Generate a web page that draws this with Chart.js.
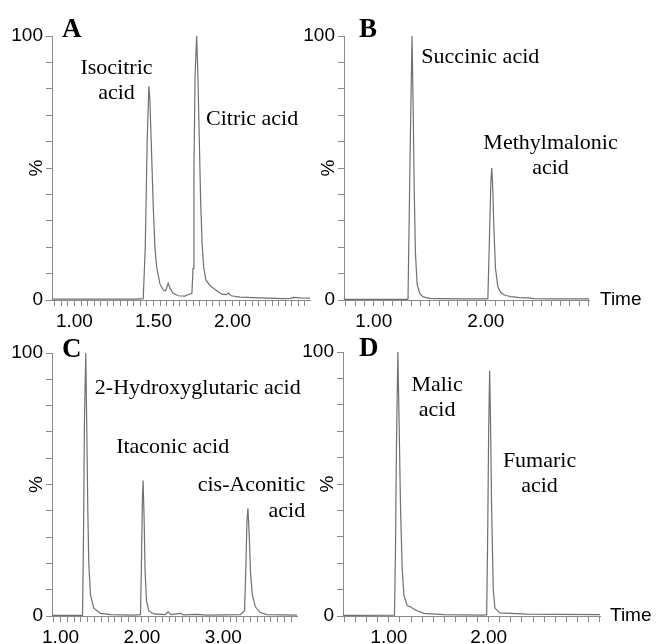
<!DOCTYPE html>
<html>
<head>
<meta charset="utf-8">
<script src="https://cdn.jsdelivr.net/npm/chart.js@4/dist/chart.umd.min.js"></script>
<style>
  body { margin: 0; background: #fff; }
  #wrap { position: relative; width: 657px; height: 644px; }
  canvas { position: absolute; left: 0; top: 0; }
</style>
</head>
<body>
<div id="wrap">
  <canvas id="chart-a" width="657" height="644"></canvas>
  <canvas id="chart-b" width="657" height="644"></canvas>
  <canvas id="chart-c" width="657" height="644"></canvas>
  <canvas id="chart-d" width="657" height="644"></canvas>
</div>
<script>
// Panel A: isocitric / citric acid (time in min, intensity in %)
const timeA = [0.858, 1.393, 1.435, 1.448, 1.460, 1.471, 1.477, 1.484, 1.492, 1.498, 1.509, 1.520, 1.541, 1.562, 1.577, 1.593, 1.608, 1.625, 1.657, 1.699, 1.726, 1.743, 1.750, 1.756, 1.763, 1.773, 1.781, 1.790, 1.798, 1.807, 1.817, 1.832, 1.857, 1.889, 1.932, 1.959, 1.974, 1.991, 2.048, 2.174, 2.322, 2.364, 2.385, 2.428, 2.491];
const pctA = [0.3, 0.3, 0.5, 20, 60, 81, 76, 63, 48, 36, 20, 12.5, 6, 3.8, 3.5, 6.3, 4, 2.5, 1.6, 1.5, 2.2, 2.5, 12, 50, 85, 100, 85, 60, 38, 22, 12.6, 7.5, 5.5, 4, 2.2, 2, 2.6, 1.6, 1.1, 0.8, 0.5, 0.6, 1.0, 0.8, 0.7];

// Panel B: succinic / methylmalonic acid
const timeB = [0.735, 1.300, 1.306, 1.316, 1.330, 1.342, 1.352, 1.362, 1.372, 1.387, 1.410, 1.440, 1.500, 1.600, 1.800, 2.000, 2.018, 2.030, 2.045, 2.053, 2.062, 2.071, 2.086, 2.107, 2.131, 2.160, 2.190, 2.220, 2.250, 2.300, 2.370, 2.430, 2.600, 2.920];
const pctB = [0.2, 0.2, 0.4, 30, 70, 100, 72, 40, 18, 6, 2.5, 1.2, 0.6, 0.5, 0.4, 0.4, 0.5, 20, 45, 50, 42, 28, 12, 5, 3, 2, 1.6, 1.3, 1.2, 0.9, 0.8, 0.5, 0.4, 0.4];

// Panel C: 2-hydroxyglutaric / itaconic / cis-aconitic acid
const timeC = [0.900, 1.270, 1.282, 1.294, 1.310, 1.323, 1.335, 1.347, 1.368, 1.409, 1.491, 1.613, 1.900, 1.982, 1.994, 2.006, 2.014, 2.026, 2.038, 2.055, 2.083, 2.145, 2.288, 2.321, 2.358, 2.472, 2.513, 2.677, 2.800, 3.209, 3.261, 3.278, 3.290, 3.302, 3.319, 3.335, 3.356, 3.393, 3.454, 3.536, 3.904];
const pctC = [0.2, 0.2, 30, 75, 100, 70, 40, 20, 8, 3, 1, 0.5, 0.3, 0.5, 20, 45, 51.5, 38, 18, 6, 2, 0.8, 0.5, 1.6, 0.5, 1.0, 0.4, 0.6, 0.3, 0.5, 2, 20, 36, 41, 30, 16, 8, 3.5, 1.3, 0.5, 0.3];

// Panel D: malic / fumaric acid
const timeD = [0.540, 1.056, 1.066, 1.076, 1.090, 1.103, 1.116, 1.133, 1.150, 1.183, 1.216, 1.256, 1.283, 1.350, 1.550, 1.946, 1.980, 1.990, 2.000, 2.010, 2.020, 2.030, 2.046, 2.063, 2.113, 2.380, 2.713, 3.116];
const pctD = [0.2, 0.3, 25, 65, 100, 72, 42, 18, 8, 4, 3.5, 2.5, 2.0, 1, 0.5, 0.3, 0.5, 30, 70, 93, 70, 40, 10, 3, 1.2, 0.7, 0.6, 0.5];

// labelled x ticks
const ticksA = [1.0, 1.5, 2.0];
const ticksB = [1.0, 2.0];
const ticksC = [1.0, 2.0, 3.0];
const ticksD = [1.0, 2.0];

const gray = "#8a8a8a";
const traceGray = "#707070";
Chart.defaults.font.family = "'Liberation Sans', Arial, sans-serif";
Chart.defaults.font.size = 19;
Chart.defaults.color = "#000";

function toPoints(ts, ps) {
  return ts.map((t, i) => ({ x: t, y: ps[i] }));
}

// peak names, panel letter, % sign and "Time"
const notesPlugin = {
  id: "notes",
  afterDraw(chart, args, opts) {
    const ctx = chart.ctx;
    const area = chart.chartArea;
    const xs = chart.scales.x;
    const ys = chart.scales.y;
    ctx.save();
    ctx.fillStyle = "#000";
    ctx.font = "bold 27px 'Liberation Serif'";
    ctx.textAlign = "left";
    ctx.textBaseline = "alphabetic";
    ctx.fillText(opts.letter, area.left + opts.letterDx, area.top + opts.letterDy);

    ctx.font = "22px 'Liberation Serif'";
    ctx.textBaseline = "middle";
    opts.names.forEach((n) => {
      ctx.textAlign = n.align;
      ctx.fillText(n.text, xs.getPixelForValue(n.t), ys.getPixelForValue(n.pct));
    });

    ctx.font = "19px 'Liberation Sans'";
    if (opts.time) {
      ctx.textAlign = "left";
      ctx.fillText("Time", area.right + opts.time, area.bottom);
    }
    ctx.translate(area.left - 15, ys.getPixelForValue(50));
    ctx.rotate(-Math.PI / 2);
    ctx.textAlign = "center";
    ctx.fillText("%", 0, 0);
    ctx.restore();
  },
};

function xAxis(min, max, step, labels) {
  return {
    type: "linear",
    min: min,
    max: max,
    border: { color: gray, width: 1 },
    grid: { drawOnChartArea: false, tickLength: 6, color: gray },
    ticks: {
      stepSize: step,
      autoSkip: false,
      includeBounds: false,
      maxRotation: 0,
      padding: 4,
      callback: (v) => (labels.some((l) => Math.abs(l - v) < 1e-6) ? v.toFixed(2) : ""),
    },
    afterFit: (s) => {
      s.height = 28;
      s.paddingLeft = 0;
      s.paddingRight = 0;
    },
  };
}

function yAxis() {
  return {
    type: "linear",
    min: 0,
    max: 100,
    border: { color: gray, width: 1 },
    grid: { drawOnChartArea: false, tickLength: 6, color: gray },
    ticks: {
      stepSize: 10,
      padding: 3,
      callback: (v) => (v === 0 || v === 100 ? String(v) : ""),
    },
    afterFit: (s) => {
      s.width = 52;
      s.paddingTop = 0;
      s.paddingBottom = 0;
    },
  };
}

function makeChart(id, ts, ps, xOpts, padding, notes) {
  return new Chart(document.getElementById(id), {
    type: "line",
    data: {
      datasets: [
        {
          data: toPoints(ts, ps),
          borderColor: traceGray,
          borderWidth: 1.2,
          pointRadius: 0,
          tension: 0,
          fill: false,
        },
      ],
    },
    options: {
      responsive: false,
      animation: false,
      layout: { padding: padding },
      scales: { x: xOpts, y: yAxis() },
      plugins: {
        legend: { display: false },
        tooltip: { enabled: false },
        notes: notes,
      },
    },
    plugins: [notesPlugin],
  });
}

makeChart("chart-a", timeA, pctA, xAxis(0.858, 2.49, 1 / 24, ticksA),
  { left: 0, right: 347, top: 36, bottom: 316 },
  {
    letter: "A", letterDx: 10, letterDy: 1,
    names: [
      { text: "Isocitric", t: 1.266, pct: 87.8, align: "center" },
      { text: "acid", t: 1.266, pct: 78.3, align: "center" },
      { text: "Citric acid", t: 1.832, pct: 68.4, align: "left" },
    ],
  });

makeChart("chart-b", timeB, pctB, xAxis(0.735, 2.92, 1 / 12, ticksB),
  { left: 292, right: 68, top: 36, bottom: 316 },
  {
    letter: "B", letterDx: 15, letterDy: 1, time: 11,
    names: [
      { text: "Succinic acid", t: 1.425, pct: 91.9, align: "left" },
      { text: "Methylmalonic", t: 2.577, pct: 59.3, align: "center" },
      { text: "acid", t: 2.577, pct: 49.9, align: "center" },
    ],
  });

makeChart("chart-c", timeC, pctC, xAxis(0.895, 3.905, 1 / 12, ticksC),
  { left: 0, right: 360, top: 353, bottom: 0 },
  {
    letter: "C", letterDx: 10, letterDy: 4,
    names: [
      { text: "2-Hydroxyglutaric acid", t: 1.421, pct: 86.7, align: "left" },
      { text: "Itaconic acid", t: 1.683, pct: 64.3, align: "left" },
      { text: "cis-Aconitic", t: 4.006, pct: 49.8, align: "right" },
      { text: "acid", t: 4.006, pct: 40, align: "right" },
    ],
  });

makeChart("chart-d", timeD, pctD, xAxis(0.54, 3.116, 1 / 9, ticksD),
  { left: 291, right: 57, top: 352, bottom: 0 },
  {
    letter: "D", letterDx: 16, letterDy: 4, time: 10,
    names: [
      { text: "Malic", t: 1.483, pct: 87.6, align: "center" },
      { text: "acid", t: 1.483, pct: 78.1, align: "center" },
      { text: "Fumaric", t: 2.51, pct: 58.5, align: "center" },
      { text: "acid", t: 2.51, pct: 49, align: "center" },
    ],
  });
</script>
</body>
</html>
